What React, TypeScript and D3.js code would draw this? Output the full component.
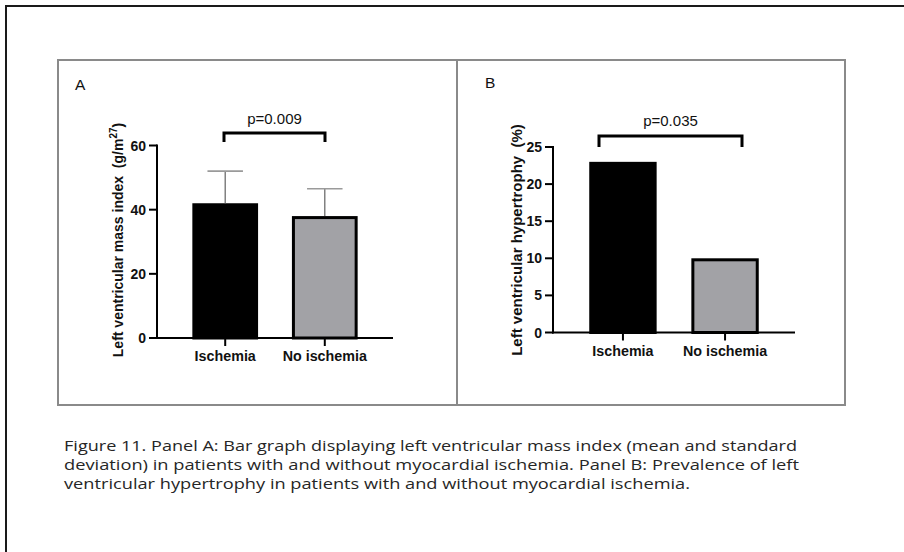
import React from "react";
import * as d3 from "d3";

const categories = ["Ischemia", "No ischemia"];
const massMean = [42, 38];
const massSD = [10, 8.5];
const massTicks = [0, 20, 40, 60];
const lvhPercent = [23, 10];
const lvhTicks = [0, 5, 10, 15, 20, 25];
const barFills = ["#000000", "#a2a2a6"];
const pValueA = "p=0.009";
const pValueB = "p=0.035";
const captionLines = [
  "Figure 11. Panel A: Bar graph displaying left ventricular mass index (mean and standard",
  "deviation) in patients with and without myocardial ischemia. Panel B: Prevalence of left",
  "ventricular hypertrophy in patients with and without myocardial ischemia.",
];
const captionWidths = [733, 735, 626];

const AX_FONT = "Liberation Sans, Arimo, DejaVu Sans, sans-serif";

type PanelProps = {
  letter: string;
  letterX: number;
  letterY: number;
  x0: number;
  x1: number;
  yTop: number;
  yBottom: number;
  yMax: number;
  ticks: number[];
  values: number[];
  sd?: number[];
  pText: string;
  bracket: { x0: number; x1: number; y: number; drop: number };
  pY: number;
  labelX: number;
  label: React.ReactNode;
  labelSize: number;
  labelBaseY: number;
};

const ax = { fontFamily: AX_FONT } as React.CSSProperties;

function Panel(p: PanelProps) {
  const x = d3
    .scaleBand<string>()
    .domain(categories)
    .range([p.x0, p.x1])
    .paddingInner(0.34)
    .paddingOuter(0.355);
  const y = d3.scaleLinear().domain([0, p.yMax]).range([p.yBottom, p.yTop]);
  const bw = x.bandwidth();
  const capW = bw * 0.54;
  return (
    <g>
      <text x={p.letterX} y={p.letterY} style={ax} fontSize={15.5} fill="#111">
        {p.letter}
      </text>
      {categories.map((c, i) => (
        <rect
          key={c}
          x={(x(c) as number) + 1.5}
          y={y(p.values[i]) + 1.5}
          width={bw - 3}
          height={y(0) - y(p.values[i]) - 1.5}
          fill={barFills[i]}
          stroke="#000"
          strokeWidth={3}
        />
      ))}
      {p.sd &&
        categories.map((c, i) => {
          const cx = (x(c) as number) + bw / 2;
          const top = y(p.values[i] + p.sd![i]);
          return (
            <g key={"e" + c}>
              <line x1={cx} x2={cx} y1={y(p.values[i])} y2={top} stroke="#6e6e6e" strokeWidth={1.3} />
              <line x1={cx - capW / 2} x2={cx + capW / 2} y1={top} y2={top} stroke="#9a9a9a" strokeWidth={1.6} />
            </g>
          );
        })}
      <line x1={p.x0} x2={p.x0} y1={y(0) + 1} y2={y(p.yMax) - 1} stroke="#000" strokeWidth={2} />
      {p.ticks.map((t) => (
        <g key={t}>
          <line x1={p.x0 - 8} x2={p.x0} y1={y(t)} y2={y(t)} stroke="#000" strokeWidth={2} />
          <text
            x={p.x0 - 11}
            y={y(t)}
            dy="0.36em"
            textAnchor="end"
            style={ax}
            fontWeight="bold"
            fontSize={14}
            fill="#111"
          >
            {t}
          </text>
        </g>
      ))}
      <line x1={p.x0 - 1} x2={p.x1} y1={y(0)} y2={y(0)} stroke="#000" strokeWidth={2} />
      {categories.map((c) => {
        const cx = (x(c) as number) + bw / 2;
        return (
          <g key={"x" + c}>
            <line x1={cx} x2={cx} y1={y(0)} y2={y(0) + 8} stroke="#000" strokeWidth={2} />
            <text
              x={cx}
              y={y(0) + 23}
              textAnchor="middle"
              style={ax}
              fontWeight="bold"
              fontSize={14.3}
              fill="#111"
            >
              {c}
            </text>
          </g>
        );
      })}
      <path
        d={`M${p.bracket.x0},${p.bracket.y + p.bracket.drop}V${p.bracket.y}H${p.bracket.x1}V${p.bracket.y + p.bracket.drop}`}
        fill="none"
        stroke="#000"
        strokeWidth={3}
      />
      <text
        x={(p.bracket.x0 + p.bracket.x1) / 2}
        y={p.pY}
        textAnchor="middle"
        style={ax}
        fontSize={15}
        fill="#111"
      >
        {p.pText}
      </text>
      <text
        transform={`translate(${p.labelX},${p.labelBaseY}) rotate(-90)`}
        textAnchor="middle"
        style={{ fontFamily: AX_FONT, whiteSpace: "pre" }}
        fontWeight="bold"
        fontSize={p.labelSize}
        fill="#111"
      >
        {p.label}
      </text>
    </g>
  );
}

export default function App() {
  return (
    <svg
      width={904}
      height={552}
      style={{ position: "absolute", left: 0, top: 0, background: "#fff" }}
    >
      <rect x={0} y={0} width={904} height={552} fill="#fff" />
      <path d="M6,560V6H910" fill="none" stroke="#1a1a1a" strokeWidth={2} />
      <rect x={58} y={60} width={787} height={345} fill="none" stroke="#8a8a8a" strokeWidth={2} />
      <line x1={457} x2={457} y1={60} y2={405} stroke="#8a8a8a" strokeWidth={2} />

      <Panel
        letter="A"
        letterX={75}
        letterY={90}
        x0={157}
        x1={393}
        yTop={145.5}
        yBottom={338}
        yMax={60}
        ticks={massTicks}
        values={massMean}
        sd={massSD}
        pText={pValueA}
        bracket={{ x0: 224, x1: 325, y: 133, drop: 9 }}
        pY={123.5}
        labelX={123}
        labelBaseY={240}
        labelSize={14}
        label={
          <>
            <tspan>{"Left ventricular mass index  (g/m"}</tspan>
            <tspan fontSize={10} dy={-6}>27</tspan>
            <tspan dy={6}>)</tspan>
          </>
        }
      />
      <Panel
        letter="B"
        letterX={485}
        letterY={88}
        x0={553}
        x1={795}
        yTop={147}
        yBottom={332.5}
        yMax={25}
        ticks={lvhTicks}
        values={lvhPercent}
        pText={pValueB}
        bracket={{ x0: 599, x1: 742, y: 136, drop: 11 }}
        pY={126}
        labelX={522}
        labelBaseY={240}
        labelSize={15}
        label={<tspan>{"Left ventricular hypertrophy  (%)"}</tspan>}
      />

      {captionLines.map((line, i) => (
        <text
          key={i}
          x={64}
          y={451 + i * 19}
          style={{ fontFamily: "Open Sans, sans-serif" }}
          fontSize={14.5}
          fill="#262626"
          textLength={captionWidths[i]}
          lengthAdjust="spacingAndGlyphs"
        >
          {line}
        </text>
      ))}
    </svg>
  );
}
